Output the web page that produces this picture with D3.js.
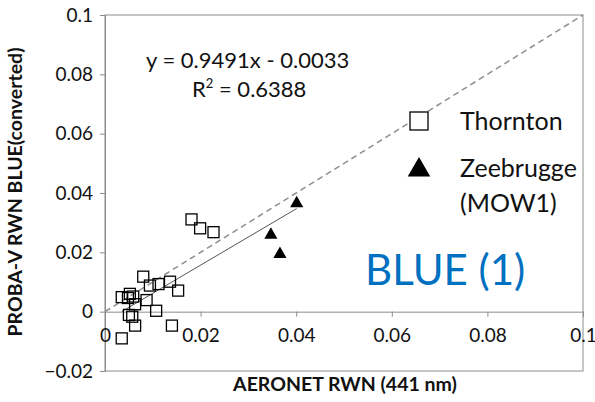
<!DOCTYPE html>
<html><head><meta charset="utf-8">
<script src="https://cdn.jsdelivr.net/npm/d3@7"></script>
<style>body{margin:0;background:#fff}svg{display:block}text{font-family:Lato,"Noto Sans",sans-serif}</style>
</head><body><svg id="c" width="595" height="402"></svg>
<script>
const thorntonX = [0.0181,0.0199,0.0227,0.0080,0.0094,0.0112,0.0136,0.0153,0.0035,0.0052,0.0059,0.0048,0.0063,0.0087,0.0107,0.0057,0.0050,0.0063,0.0140,0.0035];
const thorntonY = [0.0311,0.0281,0.0268,0.0118,0.0088,0.0093,0.0101,0.0071,0.0049,0.0060,0.0051,0.0046,0.0025,0.0039,0.0003,-0.0017,-0.0011,-0.0047,-0.0047,-0.0090];
const zeeX = [0.0401,0.0347,0.0366];
const zeeY = [0.0365,0.0259,0.0194];
const xTicks = [0,0.02,0.04,0.06,0.08,0.1];
const yTicks = [-0.02,0,0.02,0.04,0.06,0.08,0.1];
const fitSlope = 0.9491, fitIntercept = -0.0033, fitR2 = 0.6388;
const fitRange = [0.0035,0.0401];

const svg = d3.select("#c");
const x = d3.scaleLinear().domain([0,0.1]).range([105,583]);
const y = d3.scaleLinear().domain([-0.02,0.1]).range([371,15]);
const fmt = d => d===0?"0":(d===0.1?"0.1":d3.format(".2f")(d));

// frame
svg.append("rect").attr("x",105).attr("y",15).attr("width",478).attr("height",356)
  .attr("fill","none").attr("stroke","#8c8c8c").attr("stroke-width",1);

// y axis
const ya = svg.append("g").attr("transform","translate(105,0)")
  .call(d3.axisLeft(y).tickValues(yTicks).tickFormat(fmt).tickSize(5).tickPadding(7));
// x axis at y=0
const xa = svg.append("g").attr("transform",`translate(0,${y(0)})`)
  .call(d3.axisBottom(x).tickValues(xTicks).tickFormat(fmt).tickSize(5).tickPadding(12));
[ya,xa].forEach(g=>{
  g.select(".domain").attr("stroke","#8c8c8c");
  g.selectAll(".tick line").attr("stroke","#8c8c8c");
  g.selectAll(".tick text").attr("font-size",19).attr("fill","#111").style("font-family","Lato");
});

// 1:1 line
svg.append("line").attr("x1",x(0)).attr("y1",y(0)).attr("x2",x(0.1)).attr("y2",y(0.1))
  .attr("stroke","#8f8f8f").attr("stroke-width",1.5).attr("stroke-dasharray","6,4");
// regression
svg.append("line").attr("x1",x(fitRange[0])).attr("y1",y(fitSlope*fitRange[0]+fitIntercept))
  .attr("x2",x(fitRange[1])).attr("y2",y(fitSlope*fitRange[1]+fitIntercept))
  .attr("stroke","#555").attr("stroke-width",1);

// squares
const sq = 11;
svg.append("g").selectAll("rect").data(thorntonX.map((v,i)=>[v,thorntonY[i]])).join("rect")
  .attr("x",d=>x(d[0])-sq/2).attr("y",d=>y(d[1])-sq/2).attr("width",sq).attr("height",sq)
  .attr("fill","none").attr("stroke","#000").attr("stroke-width",1.3);
// triangles
const tri = d3.symbol().type(d3.symbolTriangle).size(75);
svg.append("g").selectAll("path").data(zeeX.map((v,i)=>[v,zeeY[i]])).join("path")
  .attr("d",tri).attr("transform",d=>`translate(${x(d[0])},${y(d[1])})`).attr("fill","#000");

// equation
svg.append("text").attr("x",146).attr("y",68).attr("font-size",22).attr("fill","#111")
  .text(`y = ${fitSlope}x - ${Math.abs(fitIntercept).toFixed(4)}`);
const r = svg.append("text").attr("x",192).attr("y",97).attr("font-size",22).attr("fill","#111");
r.append("tspan").text("R");
r.append("tspan").attr("font-size",13).attr("dy",-9).text("2");
r.append("tspan").attr("dy",9).text(` = ${fitR2}`);

// legend
svg.append("rect").attr("x",410).attr("y",112).attr("width",18).attr("height",18)
  .attr("fill","#fff").attr("stroke","#000").attr("stroke-width",1.3);
svg.append("path").attr("d",d3.symbol().type(d3.symbolTriangle).size(220))
  .attr("transform","translate(419,170)").attr("fill","#000");
svg.append("text").attr("x",460).attr("y",130).attr("font-size",25).attr("fill","#111").text("Thornton");
svg.append("text").attr("x",460).attr("y",177).attr("font-size",25).attr("fill","#111").text("Zeebrugge");
svg.append("text").attr("x",460).attr("y",212).attr("font-size",25).attr("fill","#111").text("(MOW1)");

// BLUE label
svg.append("text").attr("x",365).attr("y",285).attr("font-size",42).attr("fill","#0070C0").text("BLUE (1)");

// axis titles
svg.append("text").attr("x",345).attr("y",391).attr("text-anchor","middle").attr("font-size",19.5)
  .attr("font-weight","bold").attr("fill","#111").text("AERONET RWN (441 nm)");
svg.append("text").attr("transform","translate(22,192) rotate(-90)").attr("text-anchor","middle")
  .attr("font-size",19.5).attr("font-weight","bold").attr("fill","#111").text("PROBA-V RWN BLUE(converted)");
</script></body></html>
